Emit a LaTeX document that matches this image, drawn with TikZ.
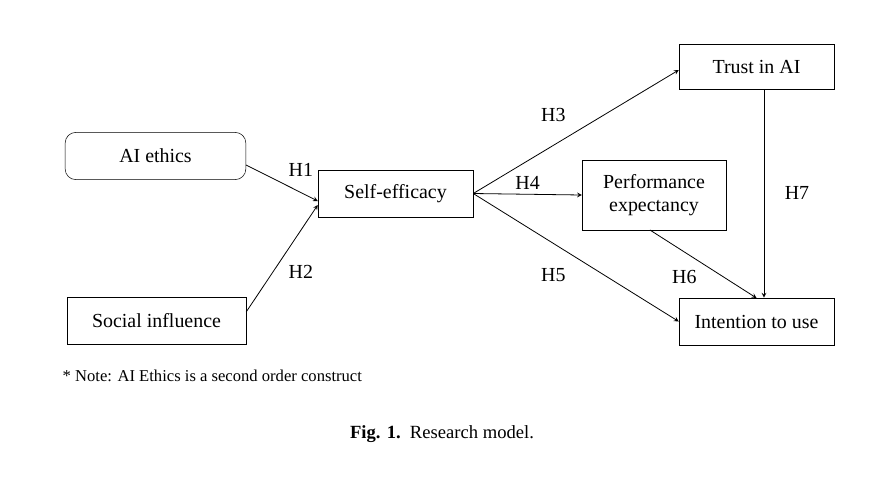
\documentclass[tikz,border=0pt]{standalone}
\usepackage{fontspec}
\setmainfont{Liberation Serif}
\usetikzlibrary{positioning}
\begin{document}
\begin{tikzpicture}[x=0.02646cm, y=-0.02646cm, font=\fontsize{15}{17}\selectfont,
	box/.style={draw, minimum height=1.25cm, align=center, inner sep=2pt},
	hyp/.style={->, >=stealth, semithick}]
	\useasboundingbox (0,0) rectangle (884,487);
	\node[box, rounded corners=8pt, minimum width=4.78cm] (E) at (155.5,156) {AI ethics};
	\node[box, minimum width=4.73cm] (S) at (156.5,320.5) {Social influence};
	\node[box, minimum width=4.1cm] (SE) at (395.5,193.5) {Self-efficacy};
	\node[box, minimum width=4.1cm, minimum height=1.19cm] (T) at (756.5,66.5) {Trust in AI};
	\node[box, minimum width=3.8cm, minimum height=1.85cm] (P) at (654,195) {Performance\\expectancy};
	\node[box, minimum width=4.1cm] (I) at (756.5,321.5) {Intention to use};
	\draw[hyp] (E.east |- 0,165) -- node[pos=0.5, above right=2pt] {H1} (SE.west |- 0,201);
	\draw[hyp] (S.east |- 0,312) -- node[pos=0.5, below right=2pt] {H2} (SE.west |- 0,205);
	\draw[hyp] (SE.east) -- node[above left=6pt] {H3} (T.west |- 0,70);
	\draw[hyp] (SE.east) -- node[above] {H4} (P.west);
	\draw[hyp] (SE.east) -- node[below left=6pt] {H5} (I.west);
	\draw[hyp] (P.south west |- 0,230) ++(68,0) coordinate (p6) (p6) -- node[below left=2pt] {H6} (I.north |- 0,298);
	\draw[hyp] (T.south -| 764,0) coordinate (t7) -- node[right=12pt] {H7} (I.north -| 764,0);
	\node[anchor=west, font=\fontsize{12.5}{14}\selectfont] (N) at (58,376) {* Note: AI Ethics is a second order construct};
	\node[font=\fontsize{14}{16}\selectfont] (C) at (442,434) {\textbf{Fig. 1.}\ \ Research model.};
\end{tikzpicture}
\end{document}
